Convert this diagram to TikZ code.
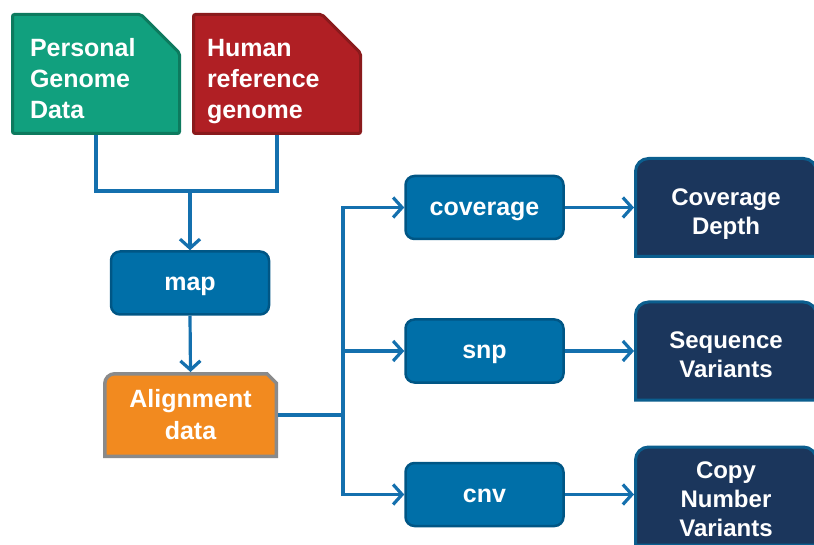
\documentclass[tikz,border=0pt]{standalone}
\usepackage{fontspec}
\setmainfont{Liberation Sans}
\usetikzlibrary{arrows.meta}

\definecolor{pgreen}{HTML}{11A07E}
\definecolor{pgreendk}{HTML}{0D7A5E}
\definecolor{hred}{HTML}{B01F24}
\definecolor{hreddk}{HTML}{8A1A1C}
\definecolor{stepblue}{HTML}{006FA8}
\definecolor{stepbluedk}{HTML}{005685}
\definecolor{alnorange}{HTML}{F28A1F}
\definecolor{alngray}{HTML}{8A8A8A}
\definecolor{resnavy}{HTML}{1B365C}
\definecolor{resnavydk}{HTML}{0B5E8E}
\definecolor{linkblue}{HTML}{1470AE}

\tikzset{
  conn/.style={draw=linkblue, line width=3.2pt},
  arr/.style={conn, -{Straight Barb[length=9pt,width=20pt]}},
  lbl/.style={text=white, font=\bfseries\fontsize{25}{31}\selectfont},
  docbox/.style 2 args={lbl, minimum width=170pt, minimum height=122pt,
    inner sep=0pt, outer sep=0pt, align=left, text height=18pt, text depth=52pt,
    path picture={\filldraw[fill=#1, draw=#2, line width=3pt, rounded corners=2pt]
      ([shift={(1.5pt,1.5pt)}]path picture bounding box.south west)
      -- ([shift={(1.5pt,-1.5pt)}]path picture bounding box.north west)
      -- ([shift={(-40pt,-1.5pt)}]path picture bounding box.north east)
      -- ([shift={(-1.5pt,-40pt)}]path picture bounding box.north east)
      -- ([shift={(-1.5pt,1.5pt)}]path picture bounding box.south east) -- cycle;}},
  stepbox/.style={lbl, rectangle, rounded corners=9pt, fill=stepblue, draw=stepbluedk,
    line width=2.5pt, minimum width=158pt, minimum height=63pt, inner sep=0pt,
    text height=19pt, text depth=3pt},
  alnbox/.style={lbl, font=\bfseries\fontsize{25}{32}\selectfont,
    minimum width=175pt, minimum height=86pt, inner sep=0pt,
    outer sep=0pt, text width=170pt, align=center, text height=18pt, text depth=34pt,
    path picture={\filldraw[fill=alnorange, draw=alngray, line width=3.5pt]
      ([shift={(1.75pt,1.75pt)}]path picture bounding box.south west)
      -- ([shift={(1.75pt,-11.75pt)}]path picture bounding box.north west)
      arc[start angle=180, end angle=90, radius=10pt]
      -- ([shift={(-11pt,-1.75pt)}]path picture bounding box.north east)
      -- ([shift={(-1.75pt,-11pt)}]path picture bounding box.north east)
      -- ([shift={(-1.75pt,1.75pt)}]path picture bounding box.south east) -- cycle;}},
  resbox/.style={lbl, font=\bfseries\fontsize{24}{29}\selectfont,
    minimum width=184pt, minimum height=101pt, inner sep=0pt, outer sep=0pt,
    text width=180pt, align=center, text height=17pt,
    path picture={\filldraw[fill=resnavy, draw=resnavydk, line width=3pt]
      ([shift={(1.5pt,1.5pt)}]path picture bounding box.south west)
      -- ([shift={(1.5pt,-14.5pt)}]path picture bounding box.north west)
      arc[start angle=180, end angle=90, radius=13pt]
      -- ([shift={(-14.5pt,-1.5pt)}]path picture bounding box.north east)
      arc[start angle=90, end angle=0, radius=13pt]
      -- ([shift={(-1.5pt,1.5pt)}]path picture bounding box.south east) -- cycle;}},
}

\begin{document}
\begin{tikzpicture}[x=1pt,y=1pt]
\useasboundingbox (0,0) rectangle (814,-545);
\clip (0,0) rectangle (814,-545);

% inputs
\node[docbox={pgreen}{pgreendk}, text width=132pt] (pgd) at (96,-74) {Personal\\Genome\\Data};
\node[docbox={hred}{hreddk}, text width=140pt] (hrg) at (277,-74) {Human\\reference\\genome};

% pipeline
\node[stepbox] (map) at (190,-283) {map};
\node[alnbox] (aln) at (190.5,-415) {Alignment\\data};
\node[stepbox] (cov) at (484.5,-207.5) {coverage};
\node[stepbox] (snp) at (484.5,-351) {snp};
\node[stepbox] (cnv) at (484.5,-494.5) {cnv};

% results
\node[resbox, text depth=21pt] (covd) at (726,-207.5) {Coverage\\Depth};
\node[resbox, text depth=22pt] (seqv) at (726,-351) {Sequence\\Variants};
\node[resbox, text depth=52pt] (cnvv) at (726,-496) {Copy\\Number\\Variants};

% connectors
\coordinate (mj) at (190,-191);
\coordinate (tr) at (343,-415);
\draw[conn] (pgd.south) |- (mj) -| (hrg.south);
\draw[arr] (mj) -- (map.north);
\draw[arr] (map.south) -- (aln.north);
\draw[conn] (aln.east) -- (tr);
\draw[arr] (tr) |- (cov.west);
\draw[arr] (tr) |- (snp.west);
\draw[arr] (tr) |- (cnv.west);
\draw[arr] (cov.east) -- (covd.west);
\draw[arr] (snp.east) -- (seqv.west);
\draw[arr] (cnv.east) -- (cnv.east -| cnvv.west);
\end{tikzpicture}
\end{document}
